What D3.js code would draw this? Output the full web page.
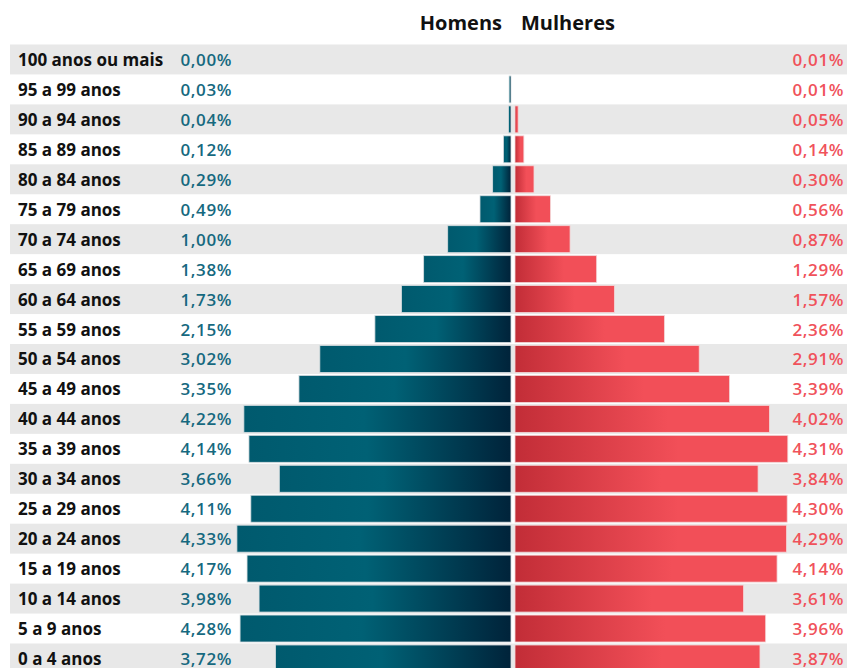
<!DOCTYPE html>
<html>
<head>
<meta charset="utf-8">
<script src="https://d3js.org/d3.v7.min.js"></script>
<style>
  body { margin:0; background:#fff; }
  text { font-family: "Open Sans", Lato, sans-serif; }
</style>
</head>
<body>
<div id="chart"></div>
<script>
// faixas etarias, de cima para baixo
var ages = ['100 anos ou mais','95 a 99 anos','90 a 94 anos','85 a 89 anos','80 a 84 anos',
  '75 a 79 anos','70 a 74 anos','65 a 69 anos','60 a 64 anos','55 a 59 anos','50 a 54 anos',
  '45 a 49 anos','40 a 44 anos','35 a 39 anos','30 a 34 anos','25 a 29 anos','20 a 24 anos',
  '15 a 19 anos','10 a 14 anos','5 a 9 anos','0 a 4 anos'];

var homens = [0.00,0.03,0.04,0.12,0.29,0.49,1.00,1.38,1.73,2.15,3.02,3.35,4.22,4.14,3.66,4.11,4.33,4.17,3.98,4.28,3.72];
var mulheres = [0.01,0.01,0.05,0.14,0.30,0.56,0.87,1.29,1.57,2.36,2.91,3.39,4.02,4.31,3.84,4.30,4.29,4.14,3.61,3.96,3.87];

var svgWidth = 847,
  svgHeight = 668;

var svg = d3.select('#chart')
  .append('svg')
  .attr('width', svgWidth)
  .attr('height', svgHeight);

var fmt = v => v.toFixed(2).replace('.', ',') + '%';

var y = d3.scaleBand()
  .domain(ages)
  .range([44.5, 44.5 + ages.length * 29.95]);

var center = 513;
var xMen = d3.scaleLinear().domain([0, 1]).range([center - 2, center - 2 - 63.3]);
var xWomen = d3.scaleLinear().domain([0, 1]).range([center + 2, center + 2 + 63.3]);

// gradients
var defs = svg.append('defs');
var gM = defs.append('linearGradient').attr('id', 'gradM');
gM.append('stop').attr('offset', '0%').attr('stop-color', '#005a6e');
gM.append('stop').attr('offset', '45%').attr('stop-color', '#006175');
gM.append('stop').attr('offset', '100%').attr('stop-color', '#00233a');
var gW = defs.append('linearGradient').attr('id', 'gradW');
gW.append('stop').attr('offset', '0%').attr('stop-color', '#c22d37');
gW.append('stop').attr('offset', '60%').attr('stop-color', '#f24f58');
gW.append('stop').attr('offset', '100%').attr('stop-color', '#f24f58');

// zebra rows
svg.append('g').selectAll('rect')
  .data(ages.filter((d, i) => i % 2 === 0))
  .enter()
  .append('rect')
  .attr('x', 10)
  .attr('width', svgWidth - 10)
  .attr('y', d => y(d))
  .attr('height', y.bandwidth())
  .attr('fill', '#e8e8e8');

var rows = ages.map((a, i) => ({age: a, m: homens[i], w: mulheres[i]}));

// bars
svg.append('g').selectAll('rect')
  .data(rows)
  .enter()
  .append('rect')
  .attr('x', d => xMen(d.m))
  .attr('width', d => xMen(0) - xMen(d.m))
  .attr('y', d => y(d.age) + 1.5)
  .attr('height', y.bandwidth() - 3)
  .attr('fill', 'url(#gradM)')
  .attr('stroke', d => d.m > 0.02 ? '#d6dde0' : 'none')
  .attr('stroke-width', 0.8);

svg.append('g').selectAll('rect')
  .data(rows.filter(d => d.w > 0.02))
  .enter()
  .append('rect')
  .attr('x', xWomen(0))
  .attr('width', d => xWomen(d.w) - xWomen(0))
  .attr('y', d => y(d.age) + 1.5)
  .attr('height', y.bandwidth() - 3)
  .attr('fill', 'url(#gradW)')
  .attr('stroke', '#f3d6d8')
  .attr('stroke-width', 0.8);

var baseY = d => y(d.age) + y.bandwidth() / 2 + 6.5;

// labels
svg.append('g').selectAll('text')
  .data(rows)
  .enter()
  .append('text')
  .attr('x', 18)
  .attr('y', baseY)
  .attr('font-size', 17)
  .attr('font-weight', 700)
  .attr('fill', '#111')
  .text(d => d.age);

svg.append('g').selectAll('text')
  .data(rows)
  .enter()
  .append('text')
  .attr('x', 232)
  .attr('y', baseY)
  .attr('text-anchor', 'end')
  .attr('font-size', 17)
  .attr('font-weight', 600)
  .attr('letter-spacing', 0.6)
  .attr('fill', '#16697f')
  .text(d => fmt(d.m));

svg.append('g').selectAll('text')
  .data(rows)
  .enter()
  .append('text')
  .attr('x', 844)
  .attr('y', baseY)
  .attr('text-anchor', 'end')
  .attr('font-size', 17)
  .attr('font-weight', 600)
  .attr('letter-spacing', 0.6)
  .attr('fill', '#f0525b')
  .text(d => fmt(d.w));

// header
svg.append('text')
  .attr('x', 502).attr('y', 30)
  .attr('text-anchor', 'end')
  .attr('font-size', 20).attr('font-weight', 700).attr('fill', '#111')
  .text('Homens');
svg.append('text')
  .attr('x', 521).attr('y', 30)
  .attr('font-size', 20).attr('font-weight', 700).attr('fill', '#111')
  .text('Mulheres');
</script>
</body>
</html>
